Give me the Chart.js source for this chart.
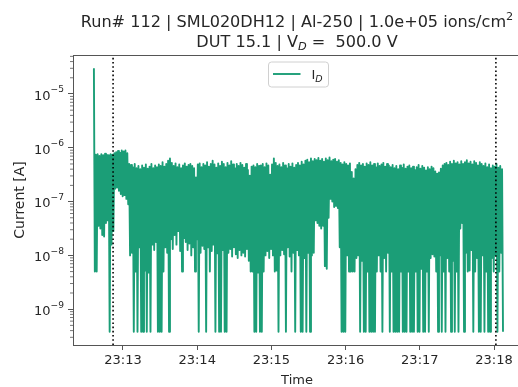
<!DOCTYPE html>
<html>
<head>
<meta charset="utf-8">
<script src="https://cdn.jsdelivr.net/npm/chart.js@4.4.1/dist/chart.umd.min.js"></script>
<style>
  html, body { margin: 0; padding: 0; background: #fff; overflow: hidden; }
  #wrap { width: 530px; height: 387px; }
</style>
</head>
<body>
<div id="wrap"><canvas id="myChart" width="530" height="387"></canvas></div>
<script>
// Run 112 / DUT 15.1 - drain current over the whole run
const runTitle = 'Run# 112 | SML020DH12 | Al-250 | 1.0e+05 ions/cm';
const dutTitle = 'DUT 15.1 | V';
const biasText = ' =  500.0 V';
const legendLabel = 'I';

// samples: one high and one low reading per step (log10 of current in A)
const sampleStart = '23:12:36.5';
const sampleStep = 1.5; // s

const logCurrentHigh = [
    -4.52, -6.13, -6.12, -6.15, -6.12, -6.14, -6.11, -6.13, -6.14, -6.12,
    -6.13, -6.10, -6.08, -6.06, -6.09, -6.05, -6.07, -6.05, -6.10, -6.30,
    -6.32, -6.36, -6.30, -6.38, -6.34, -6.40, -6.33, -6.37, -6.31, -6.39,
    -6.35, -6.30, -6.38, -6.33, -6.36, -6.31, -6.34, -6.27, -6.35, -6.30,
    -6.24, -6.20, -6.28, -6.34, -6.29, -6.36, -6.31, -6.38, -6.33, -6.29,
    -6.35, -6.32, -6.30, -6.34, -6.38, -6.55, -6.31, -6.29, -6.36, -6.30,
    -6.33, -6.27, -6.35, -6.30, -6.24, -6.31, -6.37, -6.29, -6.34, -6.26,
    -6.30, -6.36, -6.28, -6.33, -6.25, -6.31, -6.38, -6.30, -6.34, -6.28,
    -6.32, -6.37, -6.30, -6.41, -6.52, -6.35, -6.33, -6.36, -6.30, -6.34,
    -6.33, -6.30, -6.36, -6.29, -6.33, -6.50, -6.31, -6.20, -6.28, -6.34,
    -6.31, -6.36, -6.28, -6.33, -6.38, -6.30, -6.35, -6.29, -6.37, -6.32,
    -6.28, -6.33, -6.26, -6.31, -6.24, -6.22, -6.27, -6.20, -6.25, -6.21,
    -6.23, -6.19, -6.24, -6.21, -6.26, -6.20, -6.23, -6.18, -6.25, -6.22,
    -6.21, -6.26, -6.23, -6.28, -6.31, -6.27, -6.30, -6.33, -6.29, -6.45,
    -6.57, -6.40, -6.32, -6.28, -6.33, -6.30, -6.35, -6.29, -6.32, -6.27,
    -6.33, -6.30, -6.36, -6.29, -6.34, -6.31, -6.28, -6.35, -6.30, -6.33,
    -6.36, -6.32, -6.38, -6.34, -6.40, -6.33, -6.37, -6.31, -6.39, -6.35,
    -6.33, -6.38, -6.35, -6.41, -6.36, -6.32, -6.39, -6.34, -6.37, -6.42,
    -6.36, -6.40, -6.35, -6.38, -6.44, -6.48, -6.46, -6.39, -6.33, -6.30,
    -6.28, -6.32, -6.26, -6.30, -6.24, -6.29, -6.27, -6.31, -6.25, -6.30,
    -6.27, -6.23, -6.29, -6.26, -6.31, -6.25, -6.28, -6.33, -6.27, -6.30,
    -6.34, -6.29, -6.36, -6.31, -6.38, -6.33, -6.35, -6.30, -6.37, -6.34,
    -6.40
];

const logCurrentLow = [
    -8.30, -8.30, -7.45, -7.50, -7.62, -7.65, -7.40, -7.35, -9.42, -7.80,
    -7.55, -6.76, -6.74, -6.80, -6.86, -6.90, -6.88, -6.95, -7.05, -8.00,
    -7.95, -9.42, -8.30, -9.42, -7.85, -9.42, -9.42, -8.28, -9.42, -8.32,
    -9.42, -7.80, -7.90, -7.75, -9.42, -9.42, -9.42, -8.30, -7.85, -7.95,
    -9.42, -7.70, -7.88, -7.62, -7.80, -7.55, -7.92, -8.30, -7.68, -7.75,
    -7.90, -7.78, -8.00, -7.85, -8.30, -7.70, -9.42, -7.95, -7.82, -7.88,
    -9.42, -7.85, -8.30, -7.92, -7.80, -9.42, -7.96, -9.42, -9.42, -7.90,
    -9.42, -9.42, -7.95, -7.88, -8.02, -7.85, -7.98, -8.05, -7.90, -8.00,
    -7.95, -8.02, -7.88, -8.10, -8.30, -8.30, -9.42, -9.42, -8.32, -9.42,
    -9.42, -8.30, -8.00, -7.92, -8.05, -7.88, -8.00, -8.30, -8.28, -9.42,
    -8.00, -7.90, -7.98, -9.42, -7.85, -8.02, -8.30, -7.95, -9.42, -7.90,
    -8.00, -9.42, -9.42, -8.05, -9.42, -7.95, -9.42, -8.00, -7.95, -7.35,
    -7.40, -7.45, -7.50, -7.45, -8.20, -8.25, -7.30, -6.95, -7.00, -7.10,
    -7.08, -7.12, -7.85, -9.42, -9.42, -9.42, -8.00, -8.30, -8.30, -8.30,
    -8.30, -8.05, -8.00, -9.42, -8.10, -9.42, -9.42, -8.30, -9.42, -9.42,
    -9.42, -9.42, -8.30, -8.00, -8.30, -9.42, -8.05, -8.30, -7.95, -9.42,
    -8.30, -9.42, -9.42, -9.42, -9.42, -8.30, -9.42, -9.42, -9.42, -8.30,
    -9.42, -9.42, -9.42, -8.30, -9.42, -9.42, -8.25, -9.42, -9.42, -8.30,
    -9.42, -8.05, -7.98, -8.02, -8.30, -9.42, -8.00, -9.42, -8.30, -9.42,
    -8.05, -8.30, -9.42, -8.10, -9.42, -8.30, -9.42, -7.50, -7.40, -9.42,
    -7.95, -8.30, -8.28, -7.90, -9.42, -8.30, -8.05, -9.42, -9.42, -8.00,
    -9.42, -8.30, -9.42, -9.42, -8.05, -8.30, -8.00, -9.42, -8.30, -7.95,
    -9.42
];

// dotted markers (beam start / stop)
const markerTimes = ['23:12:52', '23:18:01.5'];

const xTickLabels = ['23:13', '23:14', '23:15', '23:16', '23:17', '23:18'];
const xRange = ['23:12:19.6', '23:18:21.8'];
const yRange = [2.16e-10, 5.3e-5];

const lineColor = '#1b9e77';
const textColor = '#262626';
const spineColor = '#555';
const FONT = '"DejaVu Sans", sans-serif';

function toSec(s) {
    const parts = s.split(':').map(Number);
    return parts[0] * 3600 + parts[1] * 60 + (parts[2] || 0);
}

// high/low pairs -> one line trace
const t0 = toSec(sampleStart);
const currentPoints = [];
logCurrentHigh.forEach((hi, i) => {
    const t = t0 + i * sampleStep;
    currentPoints.push({x: t, y: Math.pow(10, hi)});
    currentPoints.push({x: t + sampleStep / 2, y: Math.pow(10, logCurrentLow[i])});
});

function logTicks(min, max) {
    const ticks = [];
    for (let e = Math.floor(Math.log10(min)); e <= Math.ceil(Math.log10(max)); e++) {
        for (let m = 1; m <= 9; m++) {
            const v = m * Math.pow(10, e);
            if (v >= min && v <= max) ticks.push({value: v, isMajor: m === 1});
        }
    }
    return ticks;
}

// rich text (sub/superscripts) drawn centred on cx
function drawRich(ctx, segs, cx, baseline) {
    let total = 0;
    segs.forEach(s => {
        ctx.font = s.font;
        s.w = ctx.measureText(s.text).width;
        total += s.w;
    });
    let x = cx - total / 2;
    segs.forEach(s => {
        ctx.font = s.font;
        ctx.fillText(s.text, x, baseline + (s.dy || 0));
        x += s.w;
    });
}

const decorations = {
    id: 'decorations',
    afterDraw(chart) {
        const ctx = chart.ctx;
        const area = chart.chartArea;
        const ys = chart.scales.y;
        ctx.save();

        // top + right spines
        ctx.strokeStyle = spineColor;
        ctx.lineWidth = 1;
        ctx.beginPath();
        ctx.moveTo(area.left, Math.round(area.top) + 0.5);
        ctx.lineTo(area.right, Math.round(area.top) + 0.5);
        ctx.lineTo(area.right, area.bottom);
        ctx.stroke();

        // minor log ticks + 10^n labels
        ctx.lineWidth = 0.8;
        ctx.fillStyle = textColor;
        ctx.textAlign = 'left';
        ctx.textBaseline = 'alphabetic';
        ys.ticks.forEach(t => {
            const y = ys.getPixelForValue(t.value);
            if (!t.isMajor) {
                ctx.beginPath();
                ctx.moveTo(area.left - 3, y);
                ctx.lineTo(area.left, y);
                ctx.stroke();
                return;
            }
            const exp = '\u2212' + Math.abs(Math.round(Math.log10(t.value)));
            ctx.font = '13px ' + FONT;
            const wBase = ctx.measureText('10').width;
            ctx.font = '9.1px ' + FONT;
            const wExp = ctx.measureText(exp).width;
            const x0 = area.left - 9 - wBase - wExp;
            ctx.font = '13px ' + FONT;
            ctx.fillText('10', x0, y + 5.8);
            ctx.font = '9.1px ' + FONT;
            ctx.fillText(exp, x0 + wBase, y - 1.6);
        });

        // title
        const cx = (area.left + area.right) / 2;
        drawRich(ctx, [
            {text: runTitle, font: '16.1px ' + FONT},
            {text: '2', font: '11.3px ' + FONT, dy: -7}
        ], cx, 26.5);
        drawRich(ctx, [
            {text: dutTitle, font: '16.1px ' + FONT},
            {text: 'D', font: 'italic 11.3px ' + FONT, dy: 3},
            {text: biasText, font: '16.1px ' + FONT}
        ], cx, 46.5);

        // legend box, upper centre
        const lx = 268.5, ly = 62, lw = 60, lh = 25;
        ctx.fillStyle = 'rgba(255,255,255,0.8)';
        ctx.strokeStyle = '#d0d0d0';
        ctx.lineWidth = 1;
        ctx.beginPath();
        ctx.roundRect(lx, ly, lw, lh, 3);
        ctx.fill();
        ctx.stroke();
        ctx.strokeStyle = lineColor;
        ctx.lineWidth = 1.9;
        ctx.beginPath();
        ctx.moveTo(lx + 4.5, ly + 12);
        ctx.lineTo(lx + 32, ly + 12);
        ctx.stroke();
        ctx.fillStyle = textColor;
        ctx.font = '13px ' + FONT;
        ctx.fillText(legendLabel, lx + 43, ly + 17);
        const iw = ctx.measureText(legendLabel).width;
        ctx.font = 'italic 9.5px ' + FONT;
        ctx.fillText('D', lx + 43 + iw, ly + 20);

        ctx.restore();
    }
};

const ctx = document.getElementById('myChart').getContext('2d');
const chart = new Chart(ctx, {
    type: 'line',
    data: {
        datasets: [
            ...markerTimes.map(t => ({
                data: [{x: toSec(t), y: yRange[0]}, {x: toSec(t), y: yRange[1]}],
                borderColor: '#000',
                borderWidth: 1.6,
                borderDash: [1.6, 2.6],
                pointRadius: 0,
                order: 0
            })),
            {
                label: 'I_D',
                data: currentPoints,
                borderColor: lineColor,
                borderWidth: 1.9,
                borderJoinStyle: 'round',
                pointRadius: 0,
                tension: 0,
                order: 1
            }
        ]
    },
    options: {
        responsive: false,
        animation: false,
        parsing: false,
        layout: {padding: {top: 55, left: 0, right: 9, bottom: 0}},
        plugins: {
            legend: {display: false},
            title: {display: false},
            tooltip: {enabled: false}
        },
        scales: {
            x: {
                type: 'linear',
                min: toSec(xRange[0]),
                max: toSec(xRange[1]),
                afterFit: scale => { scale.height = 42; },
                afterBuildTicks: scale => {
                    scale.ticks = xTickLabels.map(l => ({value: toSec(l)}));
                },
                ticks: {
                    autoSkip: false,
                    maxRotation: 0,
                    padding: 3,
                    color: textColor,
                    font: {family: FONT, size: 13},
                    callback: (value, index) => xTickLabels[index]
                },
                grid: {drawOnChartArea: false, tickLength: 5, tickColor: spineColor, tickWidth: 1},
                border: {display: true, color: spineColor, width: 1},
                title: {
                    display: true,
                    text: 'Time',
                    color: textColor,
                    font: {family: FONT, size: 13},
                    padding: {top: 0, bottom: -1}
                }
            },
            y: {
                type: 'logarithmic',
                min: yRange[0],
                max: yRange[1],
                afterFit: scale => { scale.width = 73; },
                afterBuildTicks: scale => {
                    scale.ticks = logTicks(yRange[0], yRange[1]);
                },
                ticks: {
                    autoSkip: false,
                    padding: 4,
                    callback: () => ''
                },
                grid: {
                    drawOnChartArea: false,
                    tickLength: 5,
                    tickWidth: 1,
                    tickColor: c => (c.tick && c.tick.isMajor) ? spineColor : 'rgba(0,0,0,0)'
                },
                border: {display: true, color: spineColor, width: 1},
                title: {
                    display: true,
                    text: 'Current [A]',
                    color: textColor,
                    font: {family: FONT, size: 14},
                    padding: {top: 12, bottom: 0}
                }
            }
        }
    },
    plugins: [decorations]
});
</script>
</body>
</html>
